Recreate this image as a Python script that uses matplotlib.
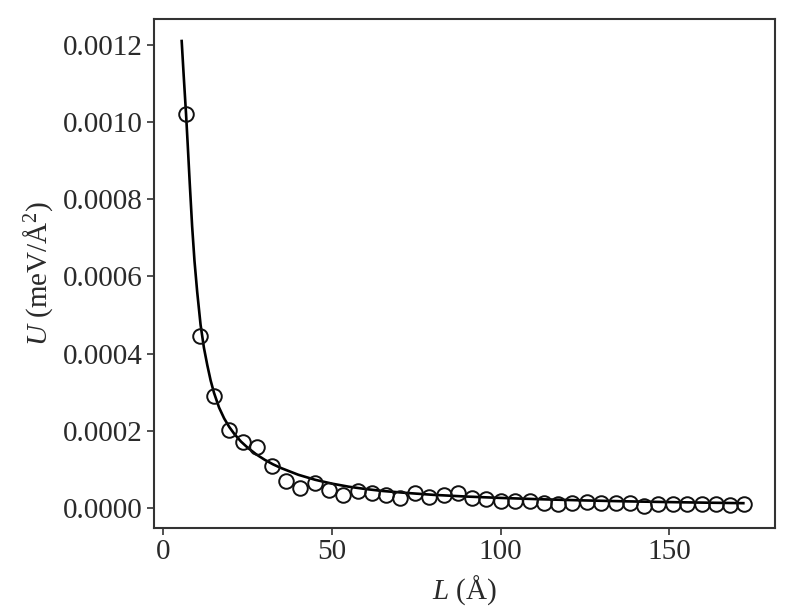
import matplotlib
matplotlib.use("Agg")
import matplotlib.pyplot as plt

# measured points (open circles)
L_data = [6.6, 10.8, 15.0, 19.3, 23.6, 27.8, 32.1, 36.3, 40.6, 44.8,
          49.1, 53.3, 57.6, 61.8, 66.1, 70.3, 74.6, 78.8, 83.1, 87.3,
          91.6, 95.8, 100.1, 104.3, 108.6, 112.8, 117.1, 121.3, 125.6, 129.8,
          134.1, 138.3, 142.6, 146.8, 151.1, 155.3, 159.6, 163.8, 168.1, 172.3]
U_data = [1.02e-3, 4.46e-4, 2.91e-4, 2.02e-4, 1.71e-4, 1.59e-4, 1.09e-4, 7.1e-5, 5.2e-5, 6.5e-5,
          4.7e-5, 3.4e-5, 4.5e-5, 3.9e-5, 3.4e-5, 2.5e-5, 3.9e-5, 2.9e-5, 3.4e-5, 3.8e-5,
          2.5e-5, 2.3e-5, 1.8e-5, 1.8e-5, 1.8e-5, 1.2e-5, 0.95e-5, 1.2e-5, 1.5e-5, 1.4e-5,
          1.2e-5, 1.2e-5, 0.5e-5, 1.0e-5, 1.0e-5, 1.0e-5, 0.95e-5, 0.95e-5, 0.8e-5, 1.0e-5]

# fitted curve
L_fit = [5.4, 6.0, 6.7, 7.2, 7.8, 8.5, 9.2, 10.0, 11.0, 12.0, 13.0, 14.0, 15.0, 16.5,
         18.0, 19.5, 21.0, 23.0, 25.0, 27.5, 30.0, 32.5, 35.0, 40.0, 45.0, 50.0,
         55.0, 60.0, 65.0, 72.0, 80.0, 90.0, 100.0, 112.0, 125.0, 137.0, 150.0, 161.0, 172.0]
U_fit = [1.21e-3, 1.12e-3, 1.02e-3, 9.4e-4, 8.4e-4, 7.3e-4, 6.4e-4, 5.6e-4, 4.75e-4, 4.15e-4,
         3.7e-4, 3.3e-4, 2.98e-4, 2.6e-4, 2.32e-4, 2.1e-4, 1.92e-4, 1.72e-4, 1.56e-4, 1.39e-4,
         1.25e-4, 1.13e-4, 1.03e-4, 8.6e-5, 7.3e-5, 6.3e-5, 5.5e-5, 4.9e-5, 4.4e-5, 3.9e-5,
         3.4e-5, 2.95e-5, 2.6e-5, 2.25e-5, 1.95e-5, 1.72e-5, 1.52e-5, 1.37e-5, 1.24e-5]

x_ticks = [0, 50, 100, 150]
y_ticks = [0.0, 0.0002, 0.0004, 0.0006, 0.0008, 0.0010, 0.0012]

plt.rcParams["font.family"] = ["Liberation Serif", "DejaVu Serif"]
plt.rcParams["mathtext.fontset"] = "custom"
plt.rcParams["mathtext.rm"] = "Liberation Serif"
plt.rcParams["mathtext.it"] = "Liberation Serif:italic"

fig = plt.figure(figsize=(8.09, 6.11), dpi=100)
ax = fig.add_axes([0.1904, 0.1358, 0.7676, 0.8331])

ax.plot(L_fit, U_fit, color="black", lw=1.9, zorder=2)
ax.plot(L_data, U_data, "o", mfc="none", mec="#111111", ms=10.5, mew=1.4, zorder=3)

ax.set_xlim(-2.8, 181.4)
ax.set_ylim(-5.2e-5, 1.267e-3)
ax.set_xticks(x_ticks)
ax.set_yticks(y_ticks)
ax.set_yticklabels(["%.4f" % v for v in y_ticks])

for s in ax.spines.values():
    s.set_linewidth(1.5)
    s.set_color("#333333")
ax.tick_params(direction="out", length=5, width=1.2, color="#333333",
               labelsize=21, labelcolor="#2a2a2a", pad=3)

ax.set_xlabel(r"$L$ (Å)", fontsize=21, color="#2a2a2a", labelpad=6)
ax.set_ylabel(r"$U$ (meV/Å$^2$)", fontsize=21, color="#2a2a2a", labelpad=6)

fig.savefig("out.png", dpi=100)
